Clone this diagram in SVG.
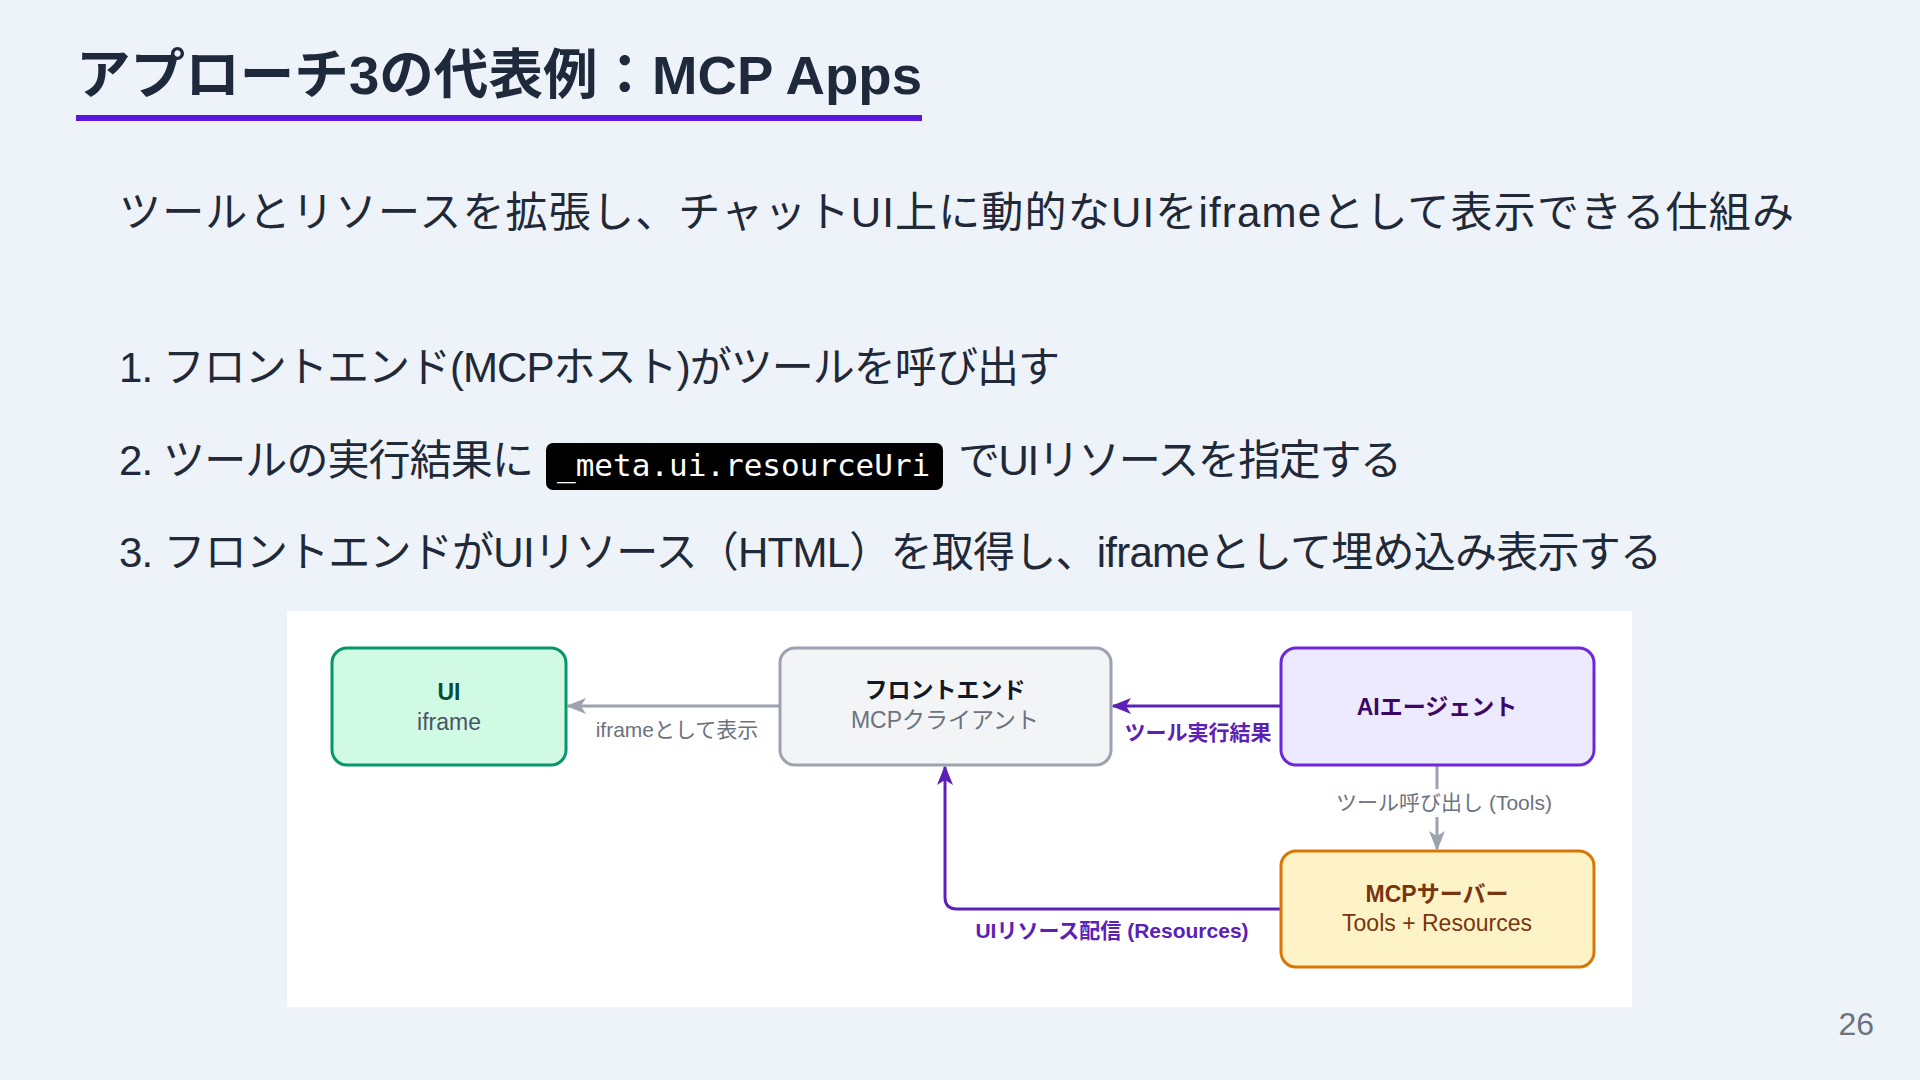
<svg xmlns="http://www.w3.org/2000/svg" width="1920" height="1080" viewBox="0 0 1920 1080">
  <defs>
    <style>
      .jp { font-family: "Liberation Sans", "Noto Sans CJK JP", sans-serif; }
      .title { font-size: 54px; font-weight: 700; fill: #1e293b; }
      .body { font-size: 42px; fill: #1f2937; }
      .code { font-family: "DejaVu Sans Mono", "Liberation Mono", monospace; font-size: 31px; fill: #ffffff; }
      .ntitle { font-size: 23px; font-weight: 700; text-anchor: middle; }
      .nsub { font-size: 23px; text-anchor: middle; }
      .elabel { font-size: 21px; text-anchor: middle; }
      .purple-line { fill: none; stroke: #5b21b6; stroke-width: 3; }
      .gray-line { fill: none; stroke: #9ca3af; stroke-width: 3; }
    </style>
    <marker id="arrowPurple" viewBox="0 0 20 16" refX="18" refY="8" markerWidth="20" markerHeight="16" markerUnits="userSpaceOnUse" orient="auto">
      <path d="M0,0 L20,8 L0,16 L5,8 z" fill="#5b21b6"/>
    </marker>
    <marker id="arrowGray" viewBox="0 0 20 16" refX="18" refY="8" markerWidth="20" markerHeight="16" markerUnits="userSpaceOnUse" orient="auto">
      <path d="M0,0 L20,8 L0,16 L5,8 z" fill="#9ca3af"/>
    </marker>
  </defs>

  <rect x="0" y="0" width="1920" height="1080" fill="#eef2f9"/>

  <g id="header">
    <text class="jp title" x="76" y="94" textLength="846" lengthAdjust="spacingAndGlyphs">アプローチ3の代表例：MCP Apps</text>
    <rect x="76" y="115" width="846" height="6" fill="#5b16dc"/>
  </g>

  <g id="body-text">
    <text class="jp body" x="119" y="227" textLength="1675" lengthAdjust="spacing">ツールとリソースを拡張し、チャットUI上に動的なUIをiframeとして表示できる仕組み</text>
    <text class="jp body" x="119" y="382" textLength="941" lengthAdjust="spacing">1. フロントエンド(MCPホスト)がツールを呼び出す</text>
    <text class="jp body" x="119" y="475" textLength="415" lengthAdjust="spacing">2. ツールの実行結果に</text>
    <rect x="546" y="443" width="397" height="47" rx="7" fill="#000000"/>
    <text class="code" x="557" y="476">_meta.ui.resourceUri</text>
    <text class="jp body" x="958" y="475" textLength="444" lengthAdjust="spacing">でUIリソースを指定する</text>
    <text class="jp body" x="119" y="567" textLength="1543" lengthAdjust="spacing">3. フロントエンドがUIリソース（HTML）を取得し、iframeとして埋め込み表示する</text>
  </g>

  <rect id="diagram-panel" x="287" y="611" width="1345" height="396" fill="#ffffff"/>

  <g id="connectors">
    <line class="gray-line" x1="780" y1="706" x2="568" y2="706" marker-end="url(#arrowGray)"/>
    <text class="jp elabel" x="677" y="737" fill="#6b7280">iframeとして表示</text>

    <line class="purple-line" x1="1281" y1="706" x2="1113" y2="706" marker-end="url(#arrowPurple)"/>
    <text class="jp elabel" x="1198" y="740" fill="#5b21b6" font-weight="700">ツール実行結果</text>

    <line class="gray-line" x1="1437" y1="765" x2="1437" y2="849" marker-end="url(#arrowGray)"/>
    <rect x="1331" y="789" width="226" height="28" fill="#ffffff"/>
    <text class="jp elabel" x="1444" y="810" fill="#6b7280">ツール呼び出し (Tools)</text>

    <path class="purple-line" d="M1281,909 L957,909 Q945,909 945,897 L945,767" marker-end="url(#arrowPurple)"/>
    <text class="jp elabel" x="1112" y="938" fill="#5b21b6" font-weight="700">UIリソース配信 (Resources)</text>
  </g>

  <g id="node-ui">
    <rect x="332" y="648" width="234" height="117" rx="15" fill="#d1fae5" stroke="#059669" stroke-width="3"/>
    <text class="jp ntitle" x="449" y="700" fill="#064e3b">UI</text>
    <text class="jp nsub" x="449" y="730" fill="#4b5563">iframe</text>
  </g>

  <g id="node-frontend">
    <rect x="780" y="648" width="331" height="117" rx="15" fill="#f3f4f6" stroke="#9ca3af" stroke-width="3"/>
    <text class="jp ntitle" x="945" y="698" fill="#111827">フロントエンド</text>
    <text class="jp nsub" x="945" y="728" fill="#6b7280">MCPクライアント</text>
  </g>

  <g id="node-agent">
    <rect x="1281" y="648" width="313" height="117" rx="15" fill="#ede9fe" stroke="#6d28d9" stroke-width="3"/>
    <text class="jp ntitle" x="1437" y="715" fill="#3b0764" font-size="24">AIエージェント</text>
  </g>

  <g id="node-mcp-server">
    <rect x="1281" y="851" width="313" height="116" rx="15" fill="#fef3c7" stroke="#d97706" stroke-width="3"/>
    <text class="jp ntitle" x="1437" y="902" fill="#78350f">MCPサーバー</text>
    <text class="jp nsub" x="1437" y="931" fill="#78350f">Tools + Resources</text>
  </g>

  <text id="page-number" class="jp" x="1874" y="1035" font-size="32" fill="#6b7280" text-anchor="end">26</text>
</svg>
